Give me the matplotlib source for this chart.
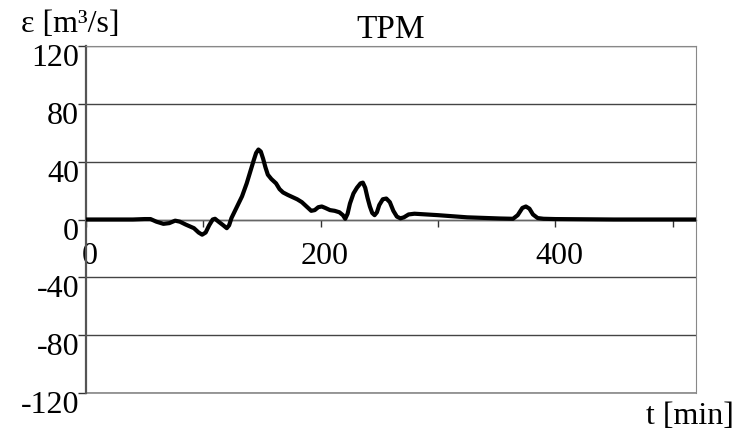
import matplotlib
matplotlib.use("Agg")
import matplotlib.pyplot as plt
from matplotlib.ticker import MultipleLocator
import matplotlib.transforms as mtransforms

plt.rcParams['font.family'] = ['Liberation Serif', 'DejaVu Serif']

t_min = [0, 20, 40, 50, 55, 60, 66, 71, 76, 80, 85, 92, 96, 99, 102, 105, 108, 110,
         113, 117, 120, 122, 124, 127, 130, 133, 137, 140, 143, 145, 147, 149, 151,
         153, 155, 158, 162, 165, 168, 172, 176, 180, 184, 188, 192, 195, 198, 201,
         204, 208, 212, 216, 219, 221, 223, 225, 228, 231, 234, 236, 238, 240, 242,
         244, 246, 248, 250, 253, 256, 259, 262, 265, 268, 271, 275, 280, 290, 300,
         325, 353, 364, 368, 372, 375, 378, 381, 385, 390, 400, 450, 520]
eps = [0, 0, 0, 0.3, 0.3, -1.5, -3, -2.5, -0.8, -1.5, -3.5, -6, -9, -10.5, -9, -4, 0, 0.5,
       -1.5, -4, -6, -4, 1, 6, 11, 16, 25, 33, 41, 46, 48.4, 47, 42,
       36, 31, 28, 25, 21, 18.7, 17, 15.5, 14, 12, 9, 6, 6.5, 8.5, 9,
       8, 6.5, 6, 5, 3, 0.5, 4, 11, 18, 22, 25, 25.5, 22, 15, 9,
       4.5, 3, 5, 10, 14, 14.5, 12, 6, 2, 0.8, 1.5, 3.5, 4, 3.5, 3,
       1.5, 0.7, 0.5, 3, 8, 9, 7.5, 3.5, 1, 0.5, 0.3, 0, 0]

x_major = [0, 200, 400]
y_ticks = [-120, -80, -40, 0, 40, 80, 120]

fig = plt.figure(figsize=(7.4, 4.33), dpi=100)
ax = fig.add_axes([86/740, 40/433, 610/740, 347/433])

ax.plot(t_min, eps, color='black', lw=3.0, solid_joinstyle='round', zorder=5)

ax.set_xlim(0, 520)
ax.set_ylim(-120, 120)
ax.set_yticks(y_ticks)
ax.set_yticklabels([str(v) for v in y_ticks])
ax.set_xticks(x_major)
ax.set_xticklabels([str(v) for v in x_major])
ax.xaxis.set_minor_locator(MultipleLocator(100))

ax.yaxis.grid(True, color='#444444', lw=1.0)
ax.set_axisbelow(True)

ax.spines['bottom'].set_position(('data', 0))
ax.spines['bottom'].set_color('#666666')
ax.spines['bottom'].set_linewidth(1.0)
ax.spines['left'].set_color('#555555')
ax.spines['left'].set_linewidth(1.6)
ax.spines['top'].set_color('#888888')
ax.spines['right'].set_color('#888888')
ax.axhline(-120, color='#888888', lw=1.2, clip_on=False)

ax.tick_params(axis='x', which='both', direction='out', length=5, width=1,
               color='#333333', labelsize=23, pad=11)
ax.tick_params(axis='y', direction='out', length=6, width=1,
               color='#333333', labelsize=23, pad=-1)

dy = mtransforms.ScaledTranslation(0, -9/100, fig.dpi_scale_trans)
for lab in ax.get_yticklabels():
    lab.set_transform(lab.get_transform() + dy)
dx = mtransforms.ScaledTranslation(4/100, 0, fig.dpi_scale_trans)
for lab in ax.get_xticklabels():
    lab.set_transform(lab.get_transform() + dx)

ax.set_title('TPM', fontsize=24, pad=6)
fig.text(70/740, 1-24/433, 'ε [m³/s]', fontsize=23, ha='center', va='center')
fig.text(690/740, 1-416/433, 't [min]', fontsize=23, ha='center', va='center')

fig.savefig('out.png', dpi=100)
